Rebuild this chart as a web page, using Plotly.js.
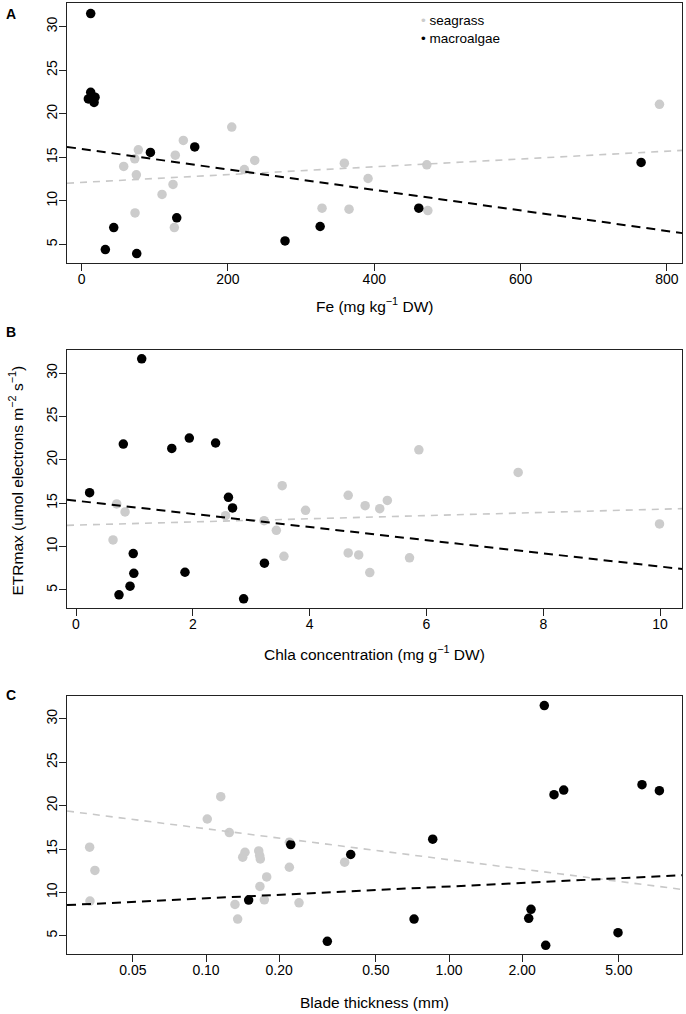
<!DOCTYPE html>
<html>
<head>
<meta charset="utf-8">
<script src="https://cdn.plot.ly/plotly-3.0.1.min.js"></script>
<style>html,body{margin:0;padding:0;background:#fff;}#chart{width:686px;height:1014px;}</style>
</head>
<body>
<div id="chart"></div>
<script>
// ---- Panel A: Fe (mg kg-1 DW) vs ETRmax ----
const feSeagrass = [57.5, 72.6, 77.5, 74.8, 73.0, 109.9, 124.9, 128.0, 139.0, 126.7, 205.2, 222.4, 236.6, 328.6, 365.5, 359.1, 391.5, 471.8, 473.2, 789.8];
const etrSeagrassA = [13.95, 14.83, 15.86, 12.99, 8.62, 10.74, 11.89, 15.25, 16.94, 6.94, 18.47, 13.6, 14.64, 9.16, 9.05, 14.33, 12.57, 14.14, 8.89, 21.08];
const feMacroalgae = [12.4, 12.4, 9.2, 18.3, 17.0, 94.0, 154.6, 43.9, 32.4, 75.3, 130.0, 278.0, 326.0, 460.8, 764.7];
const etrMacroalgaeA = [31.5, 22.46, 21.7, 21.9, 21.3, 15.56, 16.2, 6.94, 4.41, 3.95, 8.05, 5.4, 7.06, 9.16, 14.41];

// ---- Panel B: Chla concentration (mg g-1 DW) vs ETRmax ----
const chlaSeagrass = [0.697, 0.84, 0.634, 2.56, 3.22, 3.43, 3.53, 3.56, 3.93, 4.66, 4.66, 4.84, 4.95, 5.03, 5.2, 5.33, 5.71, 5.87, 7.57, 9.99];
const etrSeagrassB = [14.91, 13.99, 10.76, 13.56, 12.98, 11.87, 17.02, 8.87, 14.17, 15.9, 9.26, 9.03, 14.71, 6.99, 14.36, 15.32, 8.69, 21.16, 18.55, 12.6];
const chlaMacroalgae = [0.233, 0.81, 1.125, 1.64, 1.94, 2.39, 2.61, 2.68, 0.98, 0.99, 0.925, 0.736, 1.866, 2.87, 3.226];
const etrMacroalgaeB = [16.21, 21.82, 31.65, 21.31, 22.51, 21.94, 15.67, 14.45, 9.18, 6.91, 5.42, 4.42, 7.03, 3.96, 8.07];

// ---- Panel C: Blade thickness (mm, log scale) vs ETRmax ----
const thickSeagrass = [0.0332, 0.0349, 0.0333, 0.115, 0.1012, 0.1247, 0.1447, 0.1416, 0.1648, 0.1663, 0.1673, 0.1667, 0.1777, 0.1738, 0.1316, 0.135, 0.2203, 0.2203, 0.2414, 0.372];
const etrSeagrassC = [15.21, 12.53, 9.0, 21.03, 18.46, 16.9, 14.63, 14.06, 14.78, 14.25, 13.86, 10.69, 11.79, 9.15, 8.62, 6.93, 15.78, 12.9, 8.8, 13.48];
const thickMacroalgae = [0.1498, 0.2232, 0.3157, 0.394, 0.857, 0.718, 2.467, 2.705, 2.965, 2.175, 2.128, 2.5, 4.96, 6.226, 7.34];
const etrMacroalgaeC = [9.12, 15.52, 4.37, 14.37, 16.13, 6.93, 31.53, 21.26, 21.79, 8.05, 7.01, 3.91, 5.36, 22.41, 21.72];

// ---- Fitted regression lines (end points at the plot edges) ----
const fitXA = [-20, 821];
const fitSeagrassA = [12.03, 15.8];
const fitMacroalgaeA = [16.2, 6.3];
const fitXB = [-0.154, 10.38];
const fitSeagrassB = [12.44, 14.37];
const fitMacroalgaeB = [15.4, 7.4];
const fitXC = [0.0268, 9.12];
const fitSeagrassC = [19.38, 10.34];
const fitMacroalgaeC = [8.54, 11.99];

// ---- Tick labels ----
const ticksA = [0, 200, 400, 600, 800];
const ticksB = [0, 2, 4, 6, 8, 10];
const ticksC = [0.05, 0.1, 0.2, 0.5, 1, 2, 5];
const tickTextC = ["0.05", "0.10", "0.20", "0.50", "1.00", "2.00", "5.00"];
const ticksY = [5, 10, 15, 20, 25, 30];

const GRAY = '#cccccc';
const FONT = 'Liberation Sans, Arial, Helvetica, sans-serif';

function pts(x, y, color, xa, ya, name) {
  return {x: x, y: y, type: 'scatter', mode: 'markers', name: name, showlegend: false,
    xaxis: xa, yaxis: ya, marker: {color: color, size: 9.5, line: {width: 0}}, hoverinfo: 'x+y'};
}
function fit(x, y, color, width, dash, xa, ya) {
  return {x: x, y: y, type: 'scatter', mode: 'lines', showlegend: false, xaxis: xa, yaxis: ya,
    line: {color: color, width: width, dash: dash}, hoverinfo: 'skip'};
}

const data = [
  pts(feSeagrass, etrSeagrassA, GRAY, 'x', 'y', 'seagrass'),
  pts(feMacroalgae, etrMacroalgaeA, '#000000', 'x', 'y', 'macroalgae'),
  fit(fitXA, fitSeagrassA, '#c8c8c8', 1.6, '7px,6px', 'x', 'y'),
  fit(fitXA, fitMacroalgaeA, '#000000', 2, '9px,6px', 'x', 'y'),
  pts(chlaSeagrass, etrSeagrassB, GRAY, 'x2', 'y2', 'seagrass'),
  pts(chlaMacroalgae, etrMacroalgaeB, '#000000', 'x2', 'y2', 'macroalgae'),
  fit(fitXB, fitSeagrassB, '#c8c8c8', 1.6, '7px,6px', 'x2', 'y2'),
  fit(fitXB, fitMacroalgaeB, '#000000', 2, '9px,6px', 'x2', 'y2'),
  pts(thickSeagrass, etrSeagrassC, GRAY, 'x3', 'y3', 'seagrass'),
  pts(thickMacroalgae, etrMacroalgaeC, '#000000', 'x3', 'y3', 'macroalgae'),
  fit(fitXC, fitSeagrassC, '#c8c8c8', 1.6, '7px,6px', 'x3', 'y3'),
  fit(fitXC, fitMacroalgaeC, '#000000', 2, '9px,6px', 'x3', 'y3')
];

const W = 686, H = 1014;
const px = v => v / W;
const py = v => 1 - v / H;

const xCommon = {domain: [px(67), px(682.3)], showline: true, mirror: true, linecolor: '#222', linewidth: 1,
  ticks: 'outside', ticklen: 7, tickcolor: '#222', tickwidth: 1, showgrid: false, zeroline: false,
  ticklabelstandoff: -4, tickfont: {family: FONT, size: 14, color: '#000'}};
const yCommon = {range: [2.87, 32.67], tickvals: ticksY, tickangle: -90, showline: true, mirror: true,
  linecolor: '#222', linewidth: 1, ticks: 'outside', ticklen: 7, tickcolor: '#222', tickwidth: 1,
  showgrid: false, zeroline: false, ticklabelstandoff: -4, tickfont: {family: FONT, size: 14, color: '#000'}};

const layout = {
  width: W, height: H, margin: {l: 0, r: 0, t: 0, b: 0},
  paper_bgcolor: '#fff', plot_bgcolor: '#fff', showlegend: false,
  font: {family: FONT, color: '#000'},
  xaxis: Object.assign({}, xCommon, {anchor: 'y', range: [-20, 821], tickvals: ticksA}),
  yaxis: Object.assign({}, yCommon, {anchor: 'x', domain: [py(263), py(3.4)]}),
  xaxis2: Object.assign({}, xCommon, {anchor: 'y2', range: [-0.154, 10.38], tickvals: ticksB}),
  yaxis2: Object.assign({}, yCommon, {anchor: 'x2', domain: [py(608.3), py(350)]}),
  xaxis3: Object.assign({}, xCommon, {anchor: 'y3', type: 'log', range: [-1.572, 0.960], tickvals: ticksC, ticktext: tickTextC}),
  yaxis3: Object.assign({}, yCommon, {anchor: 'x3', domain: [py(954.3), py(695.7)]}),
  annotations: [
    {text: '<b>A</b>', x: px(10.5), y: py(13.7), xref: 'paper', yref: 'paper', showarrow: false, xanchor: 'center', yanchor: 'middle', font: {family: FONT, size: 14}},
    {text: '<b>B</b>', x: px(11), y: py(331.7), xref: 'paper', yref: 'paper', showarrow: false, xanchor: 'center', yanchor: 'middle', font: {family: FONT, size: 14}},
    {text: '<b>C</b>', x: px(11), y: py(695), xref: 'paper', yref: 'paper', showarrow: false, xanchor: 'center', yanchor: 'middle', font: {family: FONT, size: 14}},
    {text: 'Fe (mg kg<sup>−1</sup> DW)', x: px(374.5), y: py(305), xref: 'paper', yref: 'paper', showarrow: false, xanchor: 'center', yanchor: 'middle', font: {family: FONT, size: 15.5}},
    {text: 'Chla concentration (mg g<sup>−1</sup> DW)', x: px(374.5), y: py(653), xref: 'paper', yref: 'paper', showarrow: false, xanchor: 'center', yanchor: 'middle', font: {family: FONT, size: 15.5}},
    {text: 'Blade thickness (mm)', x: px(374.5), y: py(1002), xref: 'paper', yref: 'paper', showarrow: false, xanchor: 'center', yanchor: 'middle', font: {family: FONT, size: 15.5}},
    {text: 'ETRmax (umol electrons m<sup>−2</sup> s<sup>−1</sup>)', x: px(17), y: py(480.5), xref: 'paper', yref: 'paper', showarrow: false, textangle: -90, xanchor: 'center', yanchor: 'middle', font: {family: FONT, size: 15.5}},
    {text: '<span style="color:#cccccc">•</span> seagrass<br>• macroalgae', x: px(419), y: py(29.8), xref: 'paper', yref: 'paper', showarrow: false, xanchor: 'left', yanchor: 'middle', align: 'left', font: {family: FONT, size: 13.5}}
  ]
};

Plotly.newPlot('chart', data, layout, {displayModeBar: false, staticPlot: true});
</script>
</body>
</html>
